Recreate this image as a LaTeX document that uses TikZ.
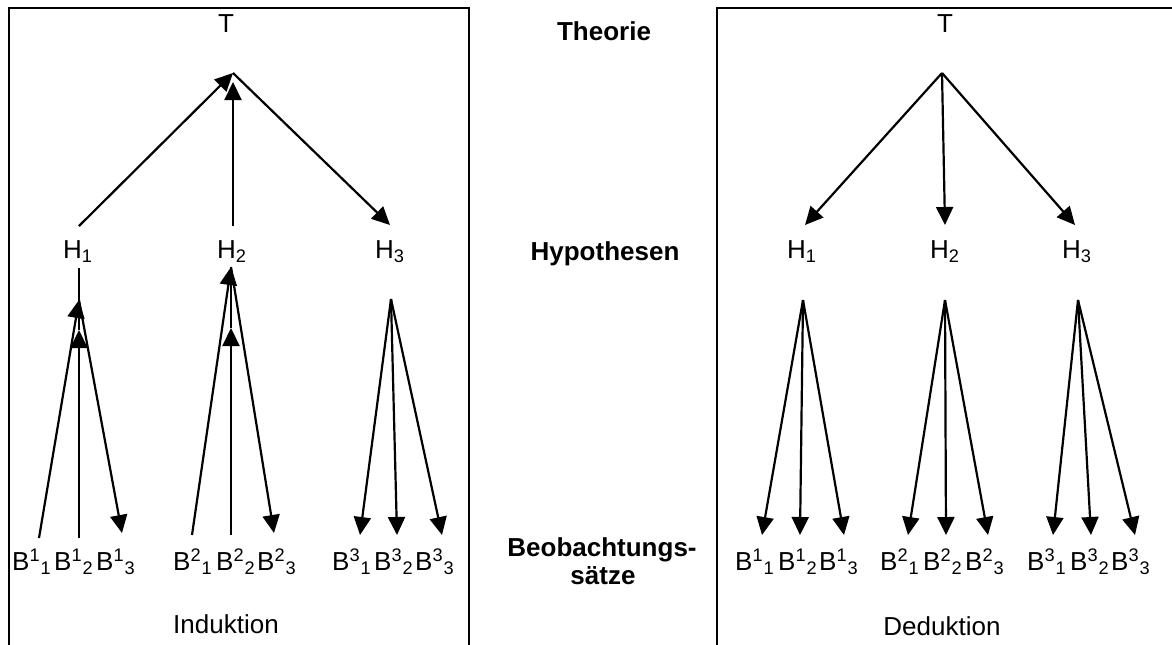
\documentclass[tikz,border=0pt]{standalone}
\usepackage{fontspec}
\setmainfont{Liberation Sans}
\usepackage{tikz}
\usetikzlibrary{arrows.meta}

\newcommand{\Bsym}[2]{B\textsuperscript{#1}\textsubscript{#2}}

\begin{document}
\begin{tikzpicture}[
  x=0.5pt,y=-0.5pt,
  every node/.style={font=\fontsize{13}{15.6}\selectfont,inner sep=0pt,anchor=base},
  rowlabel/.style={font=\fontsize{13}{15.6}\selectfont\bfseries,align=center},
  frame/.style={line width=1.1pt,color=black},
  arr/.style={-{Triangle[length=9pt,width=8.5pt]},line width=1.1pt},
  ln/.style={line width=1.1pt}
]
\useasboundingbox (0,0) rectangle (1172,644);
\clip (0,0) rectangle (1172,644);
% frames (cut off at the page edge)
\draw[frame] (9,700) -- (9,8) -- (469,8) -- (469,700);
\draw[frame] (717,700) -- (717,8) -- (1200,8);

% middle column
\node[rowlabel] (theorie) at (604,40) {Theorie};
\node[rowlabel] (hypo) at (605,260) {Hypothesen};
\node[rowlabel] (beob) at (602,556) {Beobachtungs-};
\node[rowlabel] (saetze) at (603,584) {sätze};

% ---- Induktion (left)
\node (lT) at (226,32) {T};
\node (lH1) at (78,258) {H\textsubscript{1}};
\node (lH2) at (232,258) {H\textsubscript{2}};
\node (lH3) at (390,258) {H\textsubscript{3}};
\node (lB11) at (32,570) {\Bsym{1}{1}};
\node (lB12) at (74,570) {\Bsym{1}{2}};
\node (lB13) at (116,570) {\Bsym{1}{3}};
\node (lB21) at (193,570) {\Bsym{2}{1}};
\node (lB22) at (236,570) {\Bsym{2}{2}};
\node (lB23) at (277,570) {\Bsym{2}{3}};
\node (lB31) at (352,570) {\Bsym{3}{1}};
\node (lB32) at (394,570) {\Bsym{3}{2}};
\node (lB33) at (435,570) {\Bsym{3}{3}};
\node (induk) at (226,633) {Induktion};

\coordinate (ltop) at (233,73);
\coordinate (ltopb) at (233,82);
\coordinate (lh1t) at (79,226);
\coordinate (lh2t) at (233,226);
\coordinate (lh3t) at (390,225);
\draw[arr] (lh1t) -- (ltop);
\draw[arr] (lh2t) -- (ltopb);
\draw[arr] (ltop) -- (lh3t);

\coordinate (lh1b) at (79,268);
\coordinate (lf1) at (79,300);
\coordinate (lf1b) at (79,330);
\coordinate (lb11) at (39,538);
\coordinate (lb12) at (79,538);
\coordinate (lb13) at (122,533);
\draw[ln] (lh1b) -- (lf1b);
\draw[arr] (lb11) -- (lf1);
\draw[arr] (lb12) -- (lf1b);
\draw[arr] (lf1) -- (lb13);

\coordinate (lf2) at (231,267);
\coordinate (lf2b) at (231,328);
\coordinate (lb21) at (192,535);
\coordinate (lb22) at (231,535);
\coordinate (lb23) at (274,533);
\draw[arr] (lb21) -- (lf2);
\draw[ln] (lf2) -- (lf2b);
\draw[arr] (lb22) -- (lf2b);
\draw[arr] (lf2) -- (lb23);

\coordinate (lf3) at (391,299);
\coordinate (lb31) at (360,535);
\coordinate (lb32) at (397,535);
\coordinate (lb33) at (442,535);
\draw[arr] (lf3) -- (lb31);
\draw[arr] (lf3) -- (lb32);
\draw[arr] (lf3) -- (lb33);

% ---- Deduktion (right)
\node (rT) at (945,32) {T};
\node (rH1) at (802,258) {H\textsubscript{1}};
\node (rH2) at (945,258) {H\textsubscript{2}};
\node (rH3) at (1077,258) {H\textsubscript{3}};
\node (rB11) at (755,570) {\Bsym{1}{1}};
\node (rB12) at (798,570) {\Bsym{1}{2}};
\node (rB13) at (839,570) {\Bsym{1}{3}};
\node (rB21) at (900,570) {\Bsym{2}{1}};
\node (rB22) at (943,570) {\Bsym{2}{2}};
\node (rB23) at (985,570) {\Bsym{2}{3}};
\node (rB31) at (1047,570) {\Bsym{3}{1}};
\node (rB32) at (1090,570) {\Bsym{3}{2}};
\node (rB33) at (1131,570) {\Bsym{3}{3}};
\node (dedu) at (942,635) {Deduktion};

\coordinate (rtop) at (942,73);
\coordinate (rh1t) at (805,225);
\coordinate (rh2t) at (945,225);
\coordinate (rh3t) at (1075,225);
\draw[arr] (rtop) -- (rh1t);
\draw[arr] (rtop) -- (rh2t);
\draw[arr] (rtop) -- (rh3t);

\coordinate (rf1) at (803,300);
\coordinate (rf2) at (945,300);
\coordinate (rf3) at (1078,300);
\coordinate (rb11) at (762,535);
\coordinate (rb12) at (800,535);
\coordinate (rb13) at (844,535);
\coordinate (rb21) at (908,535);
\coordinate (rb22) at (946,535);
\coordinate (rb23) at (988,535);
\coordinate (rb31) at (1053,535);
\coordinate (rb32) at (1091,535);
\coordinate (rb33) at (1135,535);
\draw[arr] (rf1) -- (rb11);
\draw[arr] (rf1) -- (rb12);
\draw[arr] (rf1) -- (rb13);
\draw[arr] (rf2) -- (rb21);
\draw[arr] (rf2) -- (rb22);
\draw[arr] (rf2) -- (rb23);
\draw[arr] (rf3) -- (rb31);
\draw[arr] (rf3) -- (rb32);
\draw[arr] (rf3) -- (rb33);
\end{tikzpicture}
\end{document}
